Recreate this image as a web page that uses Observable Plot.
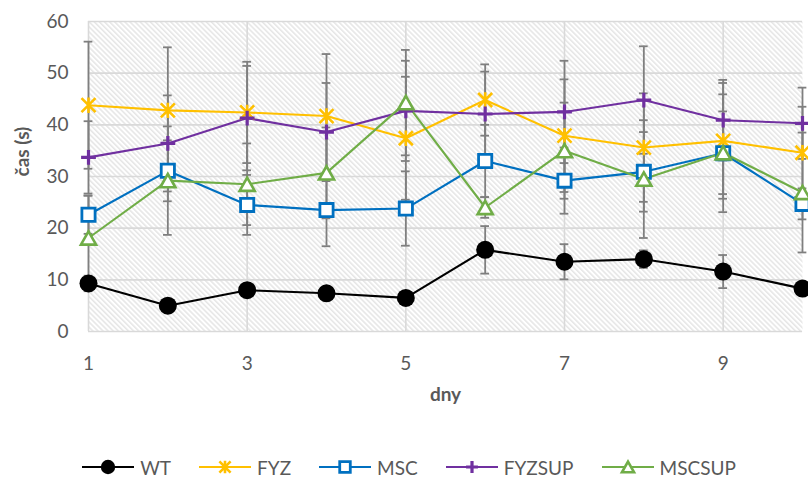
<!DOCTYPE html>
<html>
<head>
<meta charset="utf-8">
<script src="https://cdn.jsdelivr.net/npm/d3@7"></script>
<script src="https://cdn.jsdelivr.net/npm/@observablehq/plot@0.6"></script>
<style>
  html, body { margin: 0; padding: 0; background: white; }
  #chart { width: 808px; }
  #legend { display: flex; justify-content: center; align-items: center; margin-top: 35px; height: 24px; padding-left: 10px;
            font-family: Lato, sans-serif; font-size: 19px; color: #595959; }
  #legend .item { display: flex; align-items: center; margin: 0 14px; }
  #legend svg { margin-right: 6px; }
</style>
</head>
<body>
<div id="chart"></div>
<div id="legend"></div>
<script>
// ---- data ----
const days = [1, 2, 3, 4, 5, 6, 7, 8, 9, 10];
const seriesNames = ["WT", "FYZ", "MSC", "FYZSUP", "MSCSUP"];
const seriesColors = ["#000000", "#FFC000", "#0070C0", "#7030A0", "#70AD47"];

const wt     = [9.3, 5.0, 8.0, 7.4, 6.5, 15.8, 13.5, 14.0, 11.6, 8.3];
const fyz    = [43.8, 42.8, 42.4, 41.7, 37.4, 44.8, 37.9, 35.6, 36.9, 34.6];
const msc    = [22.6, 31.1, 24.5, 23.5, 23.8, 33.0, 29.2, 30.9, 34.5, 24.7];
const fyzsup = [33.7, 36.4, 41.3, 38.6, 42.7, 42.1, 42.5, 44.8, 40.9, 40.3];
const mscsup = [18.1, 29.2, 28.5, 30.7, 44.3, 24.0, 35.0, 29.5, 34.6, 26.9];

const wtErr     = [1.5, 1.2, 1.0, 1.0, 1.0, 4.6, 3.4, 1.7, 3.2, 1.2];
const fyzErr    = [12.3, 12.2, 9.8, 12.0, 11.9, 6.9, 10.9, 10.5, 11.2, 8.9];
const mscErr    = [3.7, 5.9, 5.8, 7.0, 7.2, 7.0, 6.4, 7.7, 11.4, 3.0];
const fyzsupErr = [7.0, 9.3, 10.1, 9.5, 9.7, 8.2, 9.9, 10.4, 7.8, 6.9];
const mscsupErr = [8.2, 10.5, 7.9, 8.8, 10.2, 2.0, 9.3, 11.4, 8.0, 11.6];

const xTicks = [1, 3, 5, 7, 9];
const yTicks = [0, 10, 20, 30, 40, 50, 60];
const xLabel = "dny";
const yLabel = "čas (s)";

// ---- build table ----
const valueLists = [wt, fyz, msc, fyzsup, mscsup];
const errLists = [wtErr, fyzErr, mscErr, fyzsupErr, mscsupErr];
const rows = [];
seriesNames.forEach((s, i) => {
  days.forEach((d, j) => rows.push({series: s, day: d, value: valueLists[i][j], err: errLists[i][j]}));
});

// ---- custom marker symbols (Excel-like) ----
const half = size => Math.sqrt(size / Math.PI);
const symSquare = {draw(ctx, size) { const h = half(size); ctx.rect(-h, -h, 2 * h, 2 * h); }};
const symTriangle = {draw(ctx, size) { const h = half(size); ctx.moveTo(0, -0.95 * h); ctx.lineTo(1.08 * h, 0.95 * h); ctx.lineTo(-1.08 * h, 0.95 * h); ctx.closePath(); }};
const symStar = {draw(ctx, size) { const h = half(size);
  ctx.moveTo(-h, -h); ctx.lineTo(h, h); ctx.moveTo(-h, h); ctx.lineTo(h, -h); ctx.moveTo(0, -1.1 * h); ctx.lineTo(0, 1.1 * h); }};
const symPlus = {draw(ctx, size) { const h = half(size);
  ctx.moveTo(-h, 0); ctx.lineTo(h, 0); ctx.moveTo(0, -h); ctx.lineTo(0, h); }};
const symCircle = {draw(ctx, size) { const h = half(size); ctx.moveTo(h, 0); ctx.arc(0, 0, h, 0, 2 * Math.PI); }};

const markerStyles = {
  WT:     {symbol: symCircle,   r: 9,   fill: "#000000", stroke: "none",    strokeWidth: 0},
  FYZ:    {symbol: symStar,     r: 7,   fill: "none",    stroke: "#FFC000", strokeWidth: 2.6},
  MSC:    {symbol: symSquare,   r: 6.6, fill: "white",   stroke: "#0070C0", strokeWidth: 2.8},
  FYZSUP: {symbol: symPlus,     r: 7.4, fill: "none",    stroke: "#7030A0", strokeWidth: 3.2},
  MSCSUP: {symbol: symTriangle, r: 7,   fill: "white",   stroke: "#70AD47", strokeWidth: 2.6}
};

const capHalf = 0.055;
const errColor = "#7F7F7F";
const gridColor = "#D9D9D9";

const dotMarks = seriesNames.map(s => Plot.dot(rows.filter(d => d.series === s), {
  x: "day", y: "value", ...markerStyles[s]
}));

const plot = Plot.plot({
  width: 808,
  height: 420,
  marginLeft: 88,
  marginRight: 6,
  marginTop: 21,
  marginBottom: 89,
  x: {domain: [1, 10]},
  y: {domain: [0, 60]},
  color: {domain: seriesNames, range: seriesColors},
  style: {fontFamily: "Lato, sans-serif", fontSize: "19px", color: "#595959", background: "white", overflow: "visible"},
  marks: [
    Plot.frame({fill: "url(#hatch)", stroke: null}),
    Plot.gridY(yTicks, {stroke: gridColor, strokeOpacity: 1, strokeWidth: 1.6}),
    Plot.gridX(xTicks, {stroke: gridColor, strokeOpacity: 1, strokeWidth: 1.6}),
    Plot.axisX(xTicks, {tickSize: 0, tickPadding: 25, label: null, fill: "#595959"}),
    Plot.axisY(yTicks, {tickSize: 0, tickPadding: 20, label: null, fill: "#595959"}),
    Plot.text([yLabel], {frameAnchor: "left", dx: -66, rotate: -90, fontWeight: "bold", fill: "#595959", fontSize: 19}),
    Plot.text([xLabel], {frameAnchor: "bottom", dy: 69, fontWeight: "bold", fill: "#595959", fontSize: 19}),
    // error bars
    Plot.ruleX(rows, {x: "day", y1: d => d.value - d.err, y2: d => d.value + d.err, stroke: errColor, strokeWidth: 1.8}),
    Plot.ruleY(rows, {y: d => d.value - d.err, x1: d => d.day - capHalf, x2: d => d.day + capHalf, stroke: errColor, strokeWidth: 1.8}),
    Plot.ruleY(rows, {y: d => d.value + d.err, x1: d => d.day - capHalf, x2: d => d.day + capHalf, stroke: errColor, strokeWidth: 1.8}),
    // lines
    Plot.line(rows, {x: "day", y: "value", z: "series", stroke: "series", strokeWidth: 2.1}),
    ...dotMarks
  ]
});

// hatch pattern definition
const ns = "http://www.w3.org/2000/svg";
const defs = document.createElementNS(ns, "defs");
defs.innerHTML = '<pattern id="hatch" patternUnits="userSpaceOnUse" width="3.6" height="3.6" patternTransform="rotate(-45)">' +
  '<rect width="3.6" height="3.6" fill="white"/>' +
  '<line x1="0.8" y1="0" x2="0.8" y2="3.6" stroke="#E3E3E3" stroke-width="1.4"/></pattern>';
plot.insertBefore(defs, plot.firstChild);
document.getElementById("chart").appendChild(plot);

// legend
const legend = document.getElementById("legend");
seriesNames.forEach((s, i) => {
  const item = document.createElement("div");
  item.className = "item";
  const svg = d3.create("svg").attr("width", 52).attr("height", 22);
  svg.append("line").attr("x1", 0).attr("x2", 52).attr("y1", 11).attr("y2", 11)
    .attr("stroke", seriesColors[i]).attr("stroke-width", 2.1);
  const m = markerStyles[s];
  const r = m.r * 0.8;
  svg.append("path").attr("transform", "translate(26,11)")
    .attr("d", d3.symbol(m.symbol, Math.PI * r * r)())
    .attr("fill", m.fill).attr("stroke", m.stroke).attr("stroke-width", m.strokeWidth);
  item.appendChild(svg.node());
  const label = document.createElement("span");
  label.textContent = s;
  item.appendChild(label);
  legend.appendChild(item);
});
</script>
</body>
</html>
